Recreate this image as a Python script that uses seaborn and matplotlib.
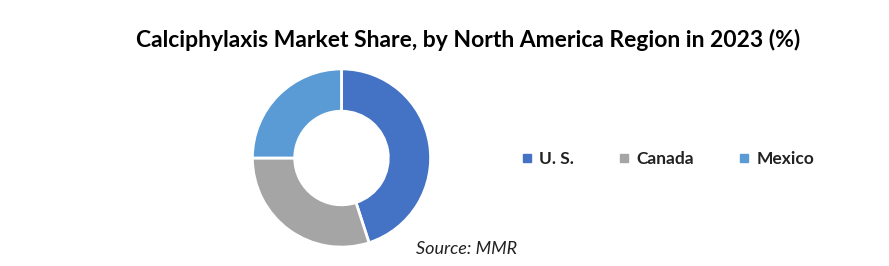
import matplotlib
matplotlib.use("Agg")
import matplotlib.pyplot as plt
from matplotlib.lines import Line2D
import seaborn as sns

regions = ["U. S.", "Canada", "Mexico"]
shares = [45, 30, 25]
colors = ["#4472C4", "#A5A5A5", "#5B9BD5"]
title = "Calciphylaxis Market Share, by North America Region in 2023 (%)"
source = "Source: MMR"

sns.set_theme(style="white")
plt.rcParams['font.family'] = ['Lato', 'DejaVu Sans']

W, H = 889, 266
fig = plt.figure(figsize=(W / 100, H / 100), dpi=100)
fig.patch.set_facecolor("white")

cx, cy, R = 341.5, 158, 90
ax = fig.add_axes([(cx - R) / W, (H - cy - R) / H, 2 * R / W, 2 * R / H])
ax.pie(shares, colors=colors, startangle=90, counterclock=False,
       radius=0.99, wedgeprops=dict(width=0.47, edgecolor="white", linewidth=2))
ax.set_xlim(-1, 1)
ax.set_ylim(-1, 1)
ax.set_aspect("equal")
ax.axis("off")

fig.text(468 / W, 1 - 40 / H, title, ha="center", va="center",
         fontsize=16.5, fontweight="bold", color="black")

handles = [Line2D([0], [0], marker="s", linestyle="", markersize=6,
                  markerfacecolor=c, markeredgecolor=c) for c in colors]
fig.legend(handles, regions, loc="center", bbox_to_anchor=(667 / W, 1 - 159 / H),
           ncol=3, frameon=False, handletextpad=0.3, columnspacing=2.5,
           handlelength=0.8, prop=dict(size=12.5, weight="bold"), labelcolor="#222222")

fig.text(467 / W, 1 - 249 / H, source, ha="center", va="center",
         fontsize=13, style="italic", color="#222222")

fig.savefig("out.png", dpi=100, facecolor="white")
